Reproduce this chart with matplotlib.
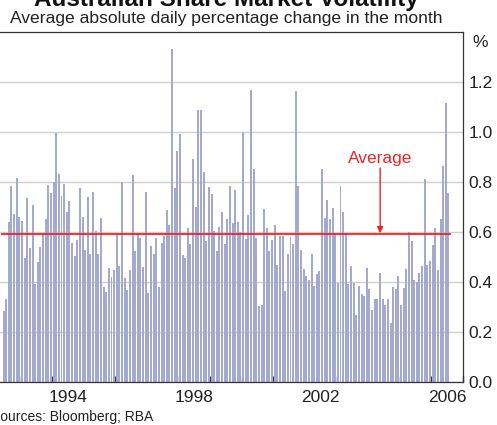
import matplotlib
matplotlib.use("Agg")
import matplotlib.pyplot as plt
import numpy as np

plt.rcParams['font.family'] = ['Liberation Sans', 'DejaVu Sans']

# volatilita' mensile, da giugno 1992 a luglio 2006
start_year, start_month = 1992, 6
volatility = [
    0.283, 0.331, 0.639, 0.783, 0.671, 0.815, 0.659,
    0.643, 0.495, 0.735, 0.535, 0.707, 0.391, 0.479, 0.539, 0.595, 0.651, 0.787, 0.755,
    0.799, 0.995, 0.831, 0.743, 0.791, 0.679, 0.723, 0.555, 0.503, 0.567, 0.775, 0.659,
    0.527, 0.739, 0.511, 0.759, 0.603, 0.511, 0.655, 0.379, 0.359, 0.455, 0.419, 0.447,
    0.595, 0.463, 0.799, 0.415, 0.367, 0.447, 0.827, 0.523, 0.595, 0.575, 0.459, 0.759,
    0.355, 0.543, 0.511, 0.575, 0.379, 0.555, 0.583, 0.687, 0.627, 1.331, 0.775, 0.923,
    0.991, 0.507, 0.495, 0.615, 0.551, 0.891, 0.699, 1.087, 1.087, 0.839, 0.563, 0.779,
    0.751, 0.603, 0.523, 0.619, 0.679, 0.551, 0.651, 0.783, 0.635, 0.767, 0.639, 0.599,
    0.999, 0.571, 0.667, 1.167, 0.851, 0.575, 0.303, 0.307, 0.691, 0.615, 0.523, 0.567,
    0.627, 0.467, 0.583, 0.583, 0.363, 0.511, 0.579, 0.551, 1.163, 0.783, 0.527, 0.451,
    0.423, 0.407, 0.511, 0.383, 0.431, 0.443, 0.851, 0.655, 0.727, 0.651, 0.695, 0.595,
    0.395, 0.783, 0.679, 0.595, 0.391, 0.463, 0.395, 0.267, 0.383, 0.351, 0.343, 0.455,
    0.371, 0.287, 0.331, 0.331, 0.435, 0.331, 0.307, 0.331, 0.235, 0.379, 0.371, 0.423,
    0.307, 0.375, 0.451, 0.599, 0.563, 0.407, 0.399, 0.435, 0.463, 0.811, 0.467, 0.483,
    0.547, 0.615, 0.447, 0.651, 0.863, 1.115, 0.755,
]
average = 0.59
year_labels = [1994, 1998, 2002, 2006]
y_ticks = [0.0, 0.2, 0.4, 0.6, 0.8, 1.0, 1.2]

months = np.arange(len(volatility))
x = start_year + (start_month - 1 + months + 0.5) / 12

fig = plt.figure(figsize=(4.97, 4.25), dpi=100)
ax = fig.add_axes([0.0, 0.1019, 0.9314, 0.8235])

ax.bar(x, volatility, width=0.75 / 12, color='#a4a9d0', zorder=2)
ax.plot([x[0] - 0.5 / 12, x[-1] + 0.5 / 12], [average, average], color='#e8262a', lw=1.3, zorder=3)

# etichetta media con freccia
ax.text(2004.38, 0.873, "Average", color='#e8262a', fontsize=12.5, ha='center', va='baseline')
ax.annotate("", xy=(2004.38, 0.594), xytext=(2004.38, 0.855),
            arrowprops=dict(arrowstyle='-|>', color='#e8262a', lw=1.0,
                            mutation_scale=9, shrinkA=0, shrinkB=0), zorder=4)

ax.set_xlim(1992.345, 2007)
ax.set_ylim(0, 1.4)

ax.set_yticks(y_ticks)
ax.set_yticklabels([f"{v:.1f}" for v in y_ticks])
ax.yaxis.tick_right()
ax.tick_params(axis='y', length=0, pad=4, labelsize=12.5, colors='#222222')
ax.grid(axis='y', color='#d0d0d0', lw=1.0, zorder=1)
ax.set_axisbelow(True)

ax.set_xticks([y + 0.5 for y in year_labels])
ax.set_xticklabels([str(y) for y in year_labels])
ax.set_xticks(np.arange(1993, 2008), minor=True)
ax.tick_params(axis='x', which='major', length=0, pad=6, labelsize=12.5, colors='#222222')
ax.tick_params(axis='x', which='minor', direction='in', length=4, width=1.0, color='#333333')

ax.spines['left'].set_visible(False)
for s in ['top', 'right', 'bottom']:
    ax.spines[s].set_color('#333333')
    ax.spines[s].set_linewidth(0.9)

fig.text(0.4557, 0.986, "Australian Share Market Volatility", fontsize=17.5, fontweight='bold',
         ha='center', va='baseline', color='#111111')
fig.text(0.4547, 0.9466, "Average absolute daily percentage change in the month", fontsize=12.6,
         ha='center', va='baseline', color='#222222')
fig.text(0.966, 0.889, "%", fontsize=12.5, ha='center', va='baseline', color='#222222')
fig.text(-0.018, 0.0094, "Sources: Bloomberg; RBA", fontsize=10, ha='left', va='baseline', color='#222222')

fig.savefig("out.png", dpi=100)
